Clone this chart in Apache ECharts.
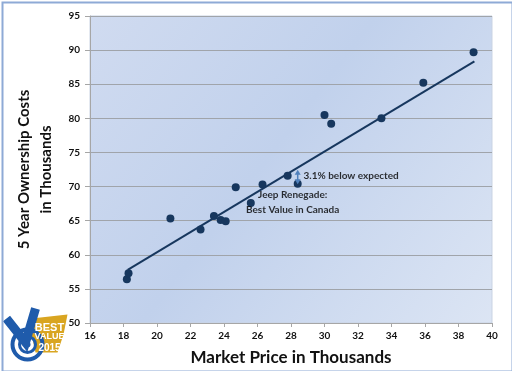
<!DOCTYPE html>
<html><head><meta charset="utf-8">
<script src="https://cdn.jsdelivr.net/npm/echarts@6/dist/echarts.min.js"></script>
<style>html,body{margin:0;padding:0;background:#fff}#c{width:512px;height:371px}</style>
</head><body><div id="c"></div>
<script>
// Market price (thousands) and 5-year ownership cost (thousands)
const marketPrice = [18.2, 18.3, 20.8, 22.6, 23.4, 23.8, 24.1, 24.7, 25.6, 26.3, 27.8, 28.4, 30.0, 30.4, 33.4, 35.9, 38.9];
const ownershipCost = [56.4, 57.3, 65.3, 63.7, 65.7, 65.1, 64.9, 69.9, 67.6, 70.3, 71.6, 70.4, 80.5, 79.2, 80.0, 85.2, 89.7];
// trend line endpoints
const trendX = [18.25, 38.95];
const trendY = [57.8, 88.35];
// annotation arrow (Jeep Renegade gap to expected)
const arrowX = [28.4, 28.4];
const arrowY = [70.7, 72.1];
const noteText1 = '3.1% below expected';
const noteText2 = 'Jeep Renegade:\nBest Value in Canada';
const notePos1 = [28.75, 71.55];
const notePos2 = [28.1, 67.75];
const xTicks = [16, 18, 20, 22, 24, 26, 28, 30, 32, 34, 36, 38, 40];
const yTicks = [50, 55, 60, 65, 70, 75, 80, 85, 90, 95];

const FONT = 'Lato';
const chart = echarts.init(document.getElementById('c'));
const pts = marketPrice.map((x, i) => [x, ownershipCost[i]]);
chart.setOption({
  animation: false,
  backgroundColor: '#ffffff',
  grid: {
    left: 90, right: 20, top: 16, bottom: 46, show: true,
    borderColor: '#c9d3e3', borderWidth: 1,
    backgroundColor: new echarts.graphic.LinearGradient(0, 0, 1, 1, [
      {offset: 0, color: '#d0dbf0'},
      {offset: 0.45, color: '#c1d1ec'},
      {offset: 1, color: '#dce5f4'}
    ])
  },
  xAxis: {
    type: 'value', min: xTicks[0], max: xTicks[xTicks.length - 1], interval: 2,
    name: 'Market Price in Thousands', nameLocation: 'middle', nameGap: 26,
    nameTextStyle: {fontFamily: FONT, fontWeight: 'bold', fontSize: 17, color: '#111'},
    axisLine: {show: true, lineStyle: {color: '#a6a6a6'}},
    axisTick: {show: true, length: 4, lineStyle: {color: '#a6a6a6'}},
    splitLine: {show: false},
    axisLabel: {fontFamily: FONT, fontWeight: 'bold', fontSize: 10, color: '#111', margin: 8}
  },
  yAxis: {
    type: 'value', min: yTicks[0], max: yTicks[yTicks.length - 1], interval: 5,
    name: '5 Year Ownership Costs\nin Thousands', nameLocation: 'middle', nameGap: 30,
    nameRotate: 90,
    nameTextStyle: {fontFamily: FONT, fontWeight: 'bold', fontSize: 15, color: '#111', lineHeight: 22},
    axisLine: {show: true, lineStyle: {color: '#a6a6a6'}},
    axisTick: {show: true, length: 5, lineStyle: {color: '#a6a6a6'}},
    splitLine: {show: true, lineStyle: {color: '#a0a4aa', width: 1}},
    axisLabel: {fontFamily: FONT, fontWeight: 'bold', fontSize: 10, color: '#111', margin: 10}
  },
  series: [
    {
      type: 'line', data: [[trendX[0], trendY[0]], [trendX[1], trendY[1]]],
      showSymbol: false, lineStyle: {color: '#17375e', width: 2}, z: 2, silent: true
    },
    {
      type: 'scatter', data: pts, symbolSize: 8,
      itemStyle: {color: '#17375e', opacity: 1}, z: 3
    },
    {
      type: 'line', data: [[arrowX[0], arrowY[0]], [arrowX[1], arrowY[1]]],
      showSymbol: false, lineStyle: {color: '#4f81bd', width: 1.5}, z: 4,
      markPoint: {
        silent: true, symbol: 'triangle', symbolSize: [6, 5],
        itemStyle: {color: '#4f81bd'},
        label: {show: false},
        data: [
          {coord: [arrowX[1], arrowY[1]], symbolRotate: 0},
          {coord: [arrowX[0], arrowY[0]], symbolRotate: 180}
        ]
      }
    },
    {
      type: 'scatter', symbolSize: 0, z: 5, silent: true,
      data: [
        {value: notePos1, label: {show: true, formatter: noteText1, position: 'right', distance: 0}},
        {value: notePos2, label: {show: true, formatter: noteText2, position: 'inside', align: 'center', lineHeight: 15}}
      ],
      label: {fontFamily: FONT, fontWeight: 'bold', fontSize: 10, color: '#000'}
    }
  ],
  graphic: [
    {type: 'rect', left: 0, top: 0, shape: {x: 0.5, y: 0.5, width: 510, height: 369},
     style: {fill: 'none', stroke: '#8eaad6', lineWidth: 2}, silent: true, z: 100},
    {type: 'group', left: 2, top: 304, silent: true, children: [
      {type: 'polygon', shape: {points: [[30, 24], [66, 20], [62, 40], [56, 58], [34, 58], [30, 40]]},
       style: {fill: '#d9a521'}},
      {type: 'circle', shape: {cx: 26, cy: 50, r: 15}, style: {fill: 'none', stroke: '#1f5bab', lineWidth: 4}},
      {type: 'circle', shape: {cx: 26, cy: 50, r: 8}, style: {fill: 'none', stroke: '#1f5bab', lineWidth: 3}},
      {type: 'circle', shape: {cx: 26, cy: 50, r: 3}, style: {fill: '#1f5bab'}},
      {type: 'polyline', shape: {points: [[5, 24], [24, 48], [34, 14]]}, style: {stroke: '#1f5bab', lineWidth: 9, fill: 'none'}},
      {type: 'text', style: {x: 48, y: 28, text: 'BEST', fill: '#ffffff', font: 'bold 11px "Liberation Sans"', align: 'center'}},
      {type: 'text', style: {x: 48, y: 38, text: 'VALUE', fill: '#ffffff', font: 'bold 9px "Liberation Sans"', align: 'center'}},
      {type: 'text', style: {x: 48, y: 49, text: '2015', fill: '#ffffff', font: 'bold 10px "Liberation Sans"', align: 'center'}}
    ]}
  ]
});
</script></body></html>
